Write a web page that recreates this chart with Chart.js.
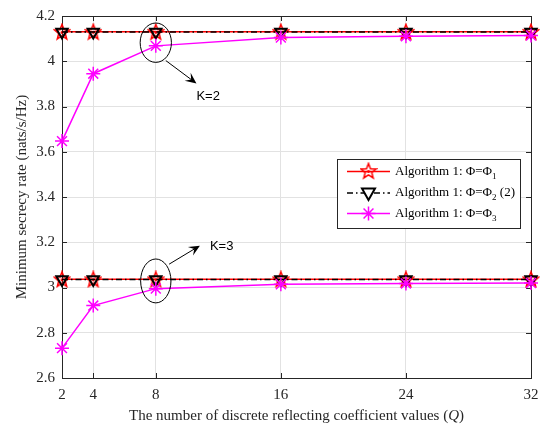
<!DOCTYPE html>
<html><head><meta charset="utf-8">
<script src="https://cdn.jsdelivr.net/npm/chart.js@4"></script>
<style>html,body{margin:0;padding:0;background:#fff}#c{display:block}</style>
</head><body>
<canvas id="c" width="547" height="428"></canvas>
<script>
const qValues = [2, 4, 8, 16, 24, 32];
const yTicks = [2.6, 2.8, 3.0, 3.2, 3.4, 3.6, 3.8, 4.0, 4.2];
const phi1K2 = [4.130, 4.130, 4.130, 4.130, 4.130, 4.130];
const phi2K2 = [4.129, 4.129, 4.129, 4.129, 4.129, 4.129];
const phi3K2 = [3.647, 3.945, 4.068, 4.105, 4.110, 4.114];
const phi1K3 = [3.036, 3.036, 3.036, 3.036, 3.036, 3.036];
const phi2K3 = [3.035, 3.035, 3.035, 3.035, 3.035, 3.035];
const phi3K3 = [2.732, 2.920, 2.995, 3.014, 3.018, 3.020];
const legendLabels = ['Algorithm 1: \u03A6=\u03A6', 'Algorithm 1: \u03A6=\u03A6', 'Algorithm 1: \u03A6=\u03A6'];
const legendSubs = ['1', '2', '3'];
const legendSuffix = ['', ' (2)', ''];
const xTitle = 'The number of discrete reflecting coefficient values (';
const xTitleItalic = 'Q';
const yTitle = 'Minimum secrecy rate (nats/s/Hz)';
const annotations = [
  {label: 'K=2', ellipse: {x: 8, y: 4.082, rx: 1.0, ry: 0.087}, arrow: [8.64, 4.003, 10.6, 3.902], text: [10.6, 3.845]},
  {label: 'K=3', ellipse: {x: 8, y: 3.029, rx: 0.97, ry: 0.097}, arrow: [8.85, 3.103, 10.82, 3.185], text: [11.46, 3.180]}
];

const RED = '#ff0000', MAG = '#ff00ff', BLK = '#000000';
const SERIF = '"Liberation Serif", "Times New Roman", serif';

function makePentagram(){
  const c = document.createElement('canvas'); c.width = c.height = 18;
  const g = c.getContext('2d'); g.strokeStyle = RED; g.lineWidth = 1.5; g.beginPath();
  for (let i = 0; i < 10; i++) {
    const r = i % 2 ? 3.4 : 8; const a = -Math.PI/2 + i*Math.PI/5;
    const px = 9 + r*Math.cos(a), py = 9.5 + r*Math.sin(a);
    i ? g.lineTo(px, py) : g.moveTo(px, py);
  }
  g.closePath(); g.stroke();
  g.fillStyle = RED; g.beginPath(); g.arc(9, 9.5, 1.5, 0, 2*Math.PI); g.fill();
  return c;
}
const pent = makePentagram();
const pts = arr => qValues.map((q, i) => ({x: q, y: arr[i]}));

function ds(arr, kind){
  const base = {data: pts(arr), clip: false, borderWidth: 1.5, pointBorderWidth: 1.5, pointRadius: 7, pointHoverRadius: 7, fill: false, tension: 0, backgroundColor: 'rgba(0,0,0,0)'};
  if (kind === 1) return Object.assign(base, {borderColor: RED, pointStyle: pent, pointBorderColor: RED, order: 3});
  if (kind === 2) return Object.assign(base, {borderColor: BLK, borderDash: [6, 3, 1.5, 3], pointStyle: 'triangle', rotation: 180, pointRadius: 6.5, pointBorderWidth: 2, pointBorderColor: BLK, order: 2});
  return Object.assign(base, {borderColor: MAG, pointStyle: 'star', pointBorderColor: MAG, pointRadius: 7, order: 1});
}

const overlay = {
  id: 'overlay',
  beforeDatasetsDraw(chart){
    const {ctx, chartArea: a, scales: {x, y}} = chart;
    ctx.save();
    ctx.strokeStyle = '#262626'; ctx.lineWidth = 1;
    ctx.strokeRect(Math.round(a.left)+0.5, Math.round(a.top)+0.5, Math.round(a.right-a.left), Math.round(a.bottom-a.top));
    ctx.beginPath();
    qValues.forEach(q => { const px = Math.round(x.getPixelForValue(q))+0.5;
      ctx.moveTo(px, a.bottom); ctx.lineTo(px, a.bottom-5); ctx.moveTo(px, a.top); ctx.lineTo(px, a.top+5); });
    yTicks.forEach(v => { const py = Math.round(y.getPixelForValue(v))+0.5;
      ctx.moveTo(a.left, py); ctx.lineTo(a.left+5, py); ctx.moveTo(a.right, py); ctx.lineTo(a.right-5, py); });
    ctx.stroke();
    ctx.restore();
  },
  afterDatasetsDraw(chart){
    const {ctx, scales: {x, y}} = chart;
    ctx.save();
    annotations.forEach(an => {
      const e = an.ellipse;
      const cx = x.getPixelForValue(e.x), cy = y.getPixelForValue(e.y);
      const rx = Math.abs(x.getPixelForValue(e.x+e.rx)-cx), ry = Math.abs(y.getPixelForValue(e.y+e.ry)-cy);
      ctx.strokeStyle = BLK; ctx.lineWidth = 1; ctx.beginPath(); ctx.ellipse(cx, cy, rx, ry, 0, 0, 2*Math.PI); ctx.stroke();
      const x1 = x.getPixelForValue(an.arrow[0]), y1 = y.getPixelForValue(an.arrow[1]);
      const x2 = x.getPixelForValue(an.arrow[2]), y2 = y.getPixelForValue(an.arrow[3]);
      const ang = Math.atan2(y2-y1, x2-x1);
      ctx.beginPath(); ctx.moveTo(x1, y1); ctx.lineTo(x2 - 6*Math.cos(ang), y2 - 6*Math.sin(ang)); ctx.stroke();
      ctx.fillStyle = BLK; ctx.beginPath();
      const L = 11, W = 5;
      ctx.moveTo(x2, y2);
      ctx.lineTo(x2 - L*Math.cos(ang) + W*Math.sin(ang), y2 - L*Math.sin(ang) - W*Math.cos(ang));
      ctx.lineTo(x2 - 0.6*L*Math.cos(ang), y2 - 0.6*L*Math.sin(ang));
      ctx.lineTo(x2 - L*Math.cos(ang) - W*Math.sin(ang), y2 - L*Math.sin(ang) + W*Math.cos(ang));
      ctx.closePath(); ctx.fill();
      ctx.font = '13px "Liberation Sans", Arial, sans-serif'; ctx.textBaseline = 'middle'; ctx.textAlign = 'left';
      ctx.fillText(an.label, x.getPixelForValue(an.text[0]), y.getPixelForValue(an.text[1]));
    });
    const lx = 337.5, ly = 159.5, lw = 183, lh = 69;
    ctx.fillStyle = '#fff'; ctx.fillRect(lx, ly, lw, lh);
    ctx.strokeStyle = '#262626'; ctx.lineWidth = 1; ctx.strokeRect(lx, ly, lw, lh);
    const rows = [171.5, 193, 213.5];
    rows.forEach((ry, i) => {
      const d = chart.data.datasets[i];
      ctx.save(); ctx.strokeStyle = d.borderColor; ctx.lineWidth = 1.5;
      ctx.setLineDash(d.borderDash || []);
      ctx.beginPath(); ctx.moveTo(347, ry); ctx.lineTo(390, ry); ctx.stroke(); ctx.restore();
      ctx.save();
      if (i === 0) ctx.drawImage(pent, 368.5-9, ry-9.5);
      else if (i === 1) { ctx.fillStyle='#fff'; ctx.strokeStyle = BLK; ctx.lineWidth = 2; ctx.beginPath();
        ctx.moveTo(368.5-6.5, ry-4.5); ctx.lineTo(368.5+6.5, ry-4.5); ctx.lineTo(368.5, ry+7); ctx.closePath(); ctx.fill(); ctx.stroke(); }
      else { ctx.strokeStyle = MAG; ctx.lineWidth = 1.5; ctx.beginPath();
        for (let k = 0; k < 4; k++) { const an = k*Math.PI/4; ctx.moveTo(368.5+7*Math.cos(an), ry+7*Math.sin(an)); ctx.lineTo(368.5-7*Math.cos(an), ry-7*Math.sin(an)); }
        ctx.stroke(); }
      ctx.restore();
      ctx.fillStyle = BLK; ctx.textAlign = 'left'; ctx.textBaseline = 'middle';
      ctx.font = '13px ' + SERIF;
      let tx = 395; ctx.fillText(legendLabels[i], tx, ry); tx += ctx.measureText(legendLabels[i]).width;
      ctx.font = '9px ' + SERIF; ctx.fillText(legendSubs[i], tx, ry+5); tx += ctx.measureText(legendSubs[i]).width;
      ctx.font = '13px ' + SERIF; ctx.fillText(legendSuffix[i], tx, ry);
    });
    ctx.restore();
  },
  afterDraw(chart){
    const {ctx, chartArea: a} = chart;
    ctx.save(); ctx.fillStyle = '#262626'; ctx.textBaseline = 'middle';
    ctx.font = '15px ' + SERIF;
    const w1 = ctx.measureText(xTitle).width;
    ctx.font = 'italic 15px ' + SERIF; const w2 = ctx.measureText(xTitleItalic).width;
    ctx.font = '15px ' + SERIF; const w3 = ctx.measureText(')').width;
    let sx = (a.left + a.right)/2 - (w1+w2+w3)/2;
    ctx.textAlign = 'left';
    ctx.fillText(xTitle, sx, 416); sx += w1;
    ctx.font = 'italic 15px ' + SERIF; ctx.fillText(xTitleItalic, sx, 416); sx += w2;
    ctx.font = '15px ' + SERIF; ctx.fillText(')', sx, 416);
    ctx.translate(22, (a.top + a.bottom)/2); ctx.rotate(-Math.PI/2);
    ctx.textAlign = 'center'; ctx.fillText(yTitle, 0, 0);
    ctx.restore();
  }
};

new Chart(document.getElementById('c'), {
  type: 'line',
  data: { datasets: [ds(phi1K2,1), ds(phi2K2,2), ds(phi3K2,3), ds(phi1K3,1), ds(phi2K3,2), ds(phi3K3,3)] },
  options: {
    responsive: false, animation: false, devicePixelRatio: 1,
    layout: {padding: {top: 8, right: 16, left: 0, bottom: 0}},
    plugins: {legend: {display: false}, tooltip: {enabled: false}},
    scales: {
      x: {type: 'linear', min: 2, max: 32,
        afterBuildTicks: s => { s.ticks = qValues.map(v => ({value: v})); },
        afterFit: s => { s.height = 50; },
        grid: {color: '#e2e2e2', drawTicks: false}, border: {display: false},
        ticks: {font: {family: SERIF, size: 15}, color: '#262626', padding: 8, maxRotation: 0, autoSkip: false}},
      y: {min: 2.6, max: 4.2,
        afterBuildTicks: s => { s.ticks = yTicks.map(v => ({value: v})); },
        afterFit: s => { s.width = 62; },
        grid: {color: '#e2e2e2', drawTicks: false}, border: {display: false},
        ticks: {font: {family: SERIF, size: 15}, color: '#262626', padding: 7,
          callback: v => String(Number(v.toFixed(1)))}}
    }
  },
  plugins: [overlay]
});
</script>
</body></html>
